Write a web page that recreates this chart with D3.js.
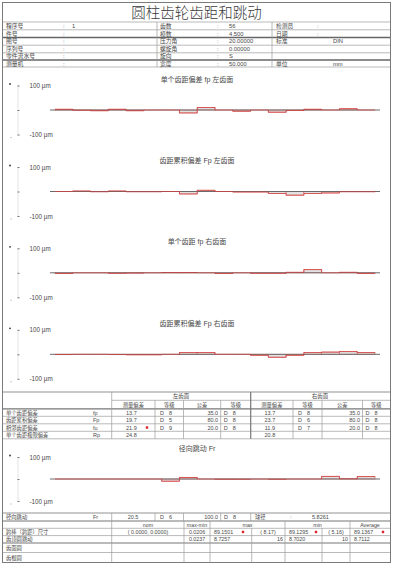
<!DOCTYPE html>
<html><head><meta charset="utf-8">
<script src="https://cdn.jsdelivr.net/npm/d3@7"></script>
<style>
html,body{margin:0;padding:0;background:#fff;}
svg{display:block;}
text{font-family:"Liberation Sans","Noto Sans CJK SC",sans-serif;fill:#484848;}
</style>
</head><body>
<svg id="c" width="393" height="566"></svg>
<script>
// ---------- DATA ----------
const mainTitle = "圆柱齿轮齿距和跳动";
const headLeftLabels = ["程序号","件号","图号","序列号","零件流水号","测量机"];
const headLeftValues = ["1","","","","",""];
const headMidLabels = ["齿数","模数","压力角","螺旋角","旋向","宽度"];
const headMidValues = ["56","4.500","20.00000","0.00000","S","50.000"];
const headRightLabels = ["检测员","日期","标准","","","单位"];
const headRightValues = ["","","DIN","","","mm"];
const headRightColon = [true,true,false,false,false,false];

const chartTitles = ["单个齿距偏差 fp 左齿面","齿距累积偏差 Fp 左齿面","单个齿距 fp 右齿面","齿距累积偏差 Fp 右齿面"];
const fpLeft  = [3, -1, -3, 3, -3, 0, 0, -12, 10, 0, -5, 0, -9, -2, 3, 0, 5, 0];
const FpLeft  = [0, 2, -1, 2, -1, -1, 0, -10, 5, 0, -2, -2, -8, -15, -8, -6, -1, -1];
const fpRight = [-3, 0, 0, -2, -1, 0, 1, 1, 0, -3, 0, -2, -2, 2, 13, 0, 2, -3];
const FpRight = [-1, 0, 0, -1, -2, -2, 0, 7, 7, 0, 0, -4, -12, -4, 7, 9, 11, 7];
const runoutTitle = "径向跳动 Fr";
const runout  = [0, 0, 0, 0, 0, 0, -10, 7, 0, -1, -1, 0, -1, 0, 0, 12, 1, 11];
const axisTicks = [-100, 0, 100];
const axisUnit = "µm";

const flankHeaders = ["左齿面","右齿面"];
const subHeaders = ["测量偏差","等级","公差","等级"];
const devLabels = ["单个齿距偏差","齿距累积偏差","相邻齿距偏差","单个齿距极限偏差"];
const devSymbols = ["fp","Fp","fu","Rp"];
const leftMeas = [13.7, 19.7, 21.9, 24.8];
const leftGrade = [8, 5, 9, null];
const leftTol = [35.0, 80.0, 20.0, null];
const leftTolGrade = [8, 8, 8, null];
const rightMeas = [13.7, 23.7, 11.9, 20.8];
const rightGrade = [8, 6, 7, null];
const rightTol = [35.0, 80.0, 20.0, null];
const rightTolGrade = [8, 8, 8, null];

const runLabel = "径向跳动", runSymbol = "Fr";
const runMeas = 20.5, runGrade = 6, runTol = 100.0, runTolGrade = 8;
const ballLabel = "球径", ballValue = "5.8261";

const sizeHeaders = ["nom","max-min","max","min","Average"];
const sizeLabels = ["跨棒（跨距）尺寸","齿顶圆跳动","齿面圆","齿根圆"];
const sizeNom = ["( 0.0000,  0.0000)","","",""];
const sizeRange = ["0.0206","0.0237","",""];
const sizeMax = ["89.1501","8.7257","",""];
const sizeMaxTooth = ["( 8.17)","16","",""];
const sizeMin = ["89.1295","8.7020","",""];
const sizeMinTooth = ["( 5.16)","10","",""];
const sizeAvg = ["89.1367","8.7112","",""];
const sizeFlag = [true,false,false,false];

// ---------- HELPERS ----------
const svg = d3.select("#c");
svg.append("rect").attr("width",393).attr("height",566).attr("fill","#fff");
const G = svg.append("g");
function hl(y,x1,x2,w=0.7,c="#9c9c9c"){G.append("line").attr("x1",x1).attr("x2",x2).attr("y1",y).attr("y2",y).attr("stroke",c).attr("stroke-width",w);}
function vl(x,y1,y2,w=0.7,c="#9c9c9c"){G.append("line").attr("x1",x).attr("x2",x).attr("y1",y1).attr("y2",y2).attr("stroke",c).attr("stroke-width",w);}
function tx(x,y,s,size=5.5,anchor="start",fill){const t=G.append("text").attr("x",x).attr("y",y).attr("font-size",size).attr("text-anchor",anchor).attr("dominant-baseline","central").text(s);if(fill)t.style("fill",fill);return t;}
function mark(x,y){G.append("rect").attr("x",x-1.2).attr("y",y-1.2).attr("width",2.4).attr("height",2.4).attr("fill","#e0202a");}

// frame
G.append("rect").attr("x",2.5).attr("y",2.5).attr("width",388).attr("height",560).attr("fill","none").attr("stroke","#7a7a7a").attr("stroke-width",1);

// title
tx(196.5,13,mainTitle,14.5,"middle","#3a3a3a").attr("font-family","Noto Sans CJK SC").attr("font-weight",300);

// header table
const hy = [22,29.8,37.5,45.2,52.8,60,67];
hy.forEach((y,i)=>hl(y,3,390,(i===2||i===5)?1.3:0.7,(i===2||i===5)?"#666":"#9c9c9c"));
vl(157,22,67); vl(272,22,67);
for(let i=0;i<6;i++){
  const cy=(hy[i]+hy[i+1])/2;
  tx(6,cy,headLeftLabels[i],5.8); tx(63,cy,":",5.8); tx(72,cy,headLeftValues[i],5.8);
  tx(160,cy,headMidLabels[i],5.8); tx(217,cy,":",5.8); tx(229,cy,headMidValues[i],5.8);
  tx(276,cy,headRightLabels[i],5.8); if(headRightColon[i]) tx(317,cy,":",5.8); tx(333,cy,headRightValues[i],5.8);
}

// ---------- CHARTS ----------
function drawChart(title, values, zero, half){
  const g = G.append("g");
  const x = d3.scaleLinear().domain([0, values.length]).range([55, 375]);
  const y = d3.scaleLinear().domain([-100, 100]).range([zero + half, zero - half]);
  g.append("text").attr("x",197).attr("y",zero-31).attr("font-size",7).attr("text-anchor","middle").attr("dominant-baseline","central").text(title);
  const ax = g.append("g").attr("transform","translate(17.5,0)")
    .call(d3.axisRight(y).tickValues(axisTicks).tickSize(2).tickPadding(10)
      .tickFormat(d => d === 0 ? "" : d + " " + axisUnit));
  ax.select(".domain").attr("stroke","#e4e4e4");
  ax.selectAll(".tick line").attr("stroke","#777");
  ax.selectAll(".tick text").attr("font-size",6.3).style("fill","#484848");
  g.append("circle").attr("cx",10).attr("cy",y(100)-1.5).attr("r",0.9).attr("fill","#333");
  g.append("circle").attr("cx",11).attr("cy",y(-100)+3).attr("r",0.8).attr("fill","#c8c8c8");
  g.selectAll("rect.bar").data(values).join("rect").attr("class","bar")
    .attr("x",(d,i)=>x(i)).attr("width",x(1)-x(0))
    .attr("y",d=>y(Math.max(0,d))).attr("height",d=>Math.abs(y(d)-y(0)))
    .attr("fill","#e2e2e2").attr("stroke","#dc6a6a").attr("stroke-width",0.7);
  g.append("line").attr("x1",50).attr("x2",380).attr("y1",y(0)).attr("y2",y(0)).attr("stroke","#6a6a6a").attr("stroke-width",1);
  const pts = values.map((v,i)=>[i,v]).concat([[values.length, values[values.length-1]]]);
  g.append("path").attr("d", d3.line().x(d=>x(d[0])).y(d=>y(d[1])).curve(d3.curveStepAfter)(pts))
    .attr("fill","none").attr("stroke","#d43c3c").attr("stroke-width",0.9).attr("opacity",0.8);
}
const zeros = [110, 191.5, 272.8, 354.3];
[fpLeft, FpLeft, fpRight, FpRight].forEach((v,i)=>drawChart(chartTitles[i], v, zeros[i], 24.5));
drawChart(runoutTitle, runout, 479, 22);

// ---------- DEVIATION TABLE ----------
const ty = [392,400.3,408.8,416.3,423.8,431.3,438.8];
hl(ty[0],3,390,0.8,"#777");
hl(ty[1],111.7,390);
hl(ty[2],3,390,1.2,"#777");
for(let i=3;i<ty.length;i++) hl(ty[i],3,390);
vl(111.7,ty[0],ty[6]); vl(250.7,ty[0],ty[6],1.2,"#777");
const colL = [111.7,155,183.5,220.7,250.7];
const colR = [250.7,293,322,362.5,390];
[colL,colR].forEach(c=>{ for(let k=1;k<4;k++) vl(c[k],ty[1],ty[6]); });
tx(181,(ty[0]+ty[1])/2,flankHeaders[0],5.5,"middle");
tx(320,(ty[0]+ty[1])/2,flankHeaders[1],5.5,"middle");
[colL,colR].forEach(c=>subHeaders.forEach((s,k)=>tx((c[k]+c[k+1])/2,(ty[1]+ty[2])/2,s,5.3,"middle")));
function flankCells(c, meas, grade, tol, tgrade, cy, i){
  if(meas[i]!=null) tx((c[0]+c[1])/2-2,cy,meas[i].toFixed(1),5.5,"middle");
  if(meas[i]!=null && tol[i]!=null && meas[i]>tol[i]) mark(c[1]-8,cy);
  if(grade[i]!=null){ tx(c[1]+5,cy,"D",5.5); tx(c[1]+14,cy,String(grade[i]),5.5); }
  if(tol[i]!=null) tx(c[3]-2.5,cy,tol[i].toFixed(1),5.5,"end");
  if(tgrade[i]!=null){ tx(c[3]+3,cy,"D",5.5); tx(c[3]+12,cy,String(tgrade[i]),5.5); }
}
for(let i=0;i<4;i++){
  const cy=(ty[i+2]+ty[i+3])/2;
  tx(6,cy,devLabels[i],5.3); tx(93,cy,devSymbols[i],5.5);
  flankCells(colL,leftMeas,leftGrade,leftTol,leftTolGrade,cy,i);
  flankCells(colR,rightMeas,rightGrade,rightTol,rightTolGrade,cy,i);
}

// ---------- RUNOUT ROW ----------
const ry1=513, ry2=521;
hl(ry1,3,390,0.8,"#777"); hl(ry2,3,390,1.1,"#777");
[111.7,155,183.5,220.7,250.7].forEach(x=>vl(x,ry1,ry2));
const rcy=(ry1+ry2)/2;
tx(6,rcy,runLabel,5.3); tx(93,rcy,runSymbol,5.5);
tx(133,rcy,runMeas.toFixed(1),5.5,"middle");
tx(160,rcy,"D",5.5); tx(169,rcy,String(runGrade),5.5);
tx(218,rcy,runTol.toFixed(1),5.5,"end");
tx(224,rcy,"D",5.5); tx(233,rcy,String(runTolGrade),5.5);
tx(255,rcy,ballLabel,5.3); tx(290,rcy,":",5.5); tx(312,rcy,ballValue,5.5);

// ---------- SIZE TABLE ----------
const sy=[521,528.3,535.6,543,552.5,562.5];
for(let i=1;i<sy.length-1;i++) hl(sy[i],3,390,i===3?1.2:0.7,i===3?"#777":"#9c9c9c");
[111.7,184,210,285,350].forEach(x=>vl(x,sy[0],sy[5]));
[251.7,322].forEach(x=>vl(x,sy[1],sy[5]));
const hc=(sy[0]+sy[1])/2;
const hx=[148,197,247.5,317.5,370];
sizeHeaders.forEach((s,k)=>tx(hx[k],hc,s,5.3,"middle"));
for(let i=0;i<4;i++){
  const cy=(sy[i+1]+sy[i+2])/2;
  tx(6,cy,sizeLabels[i],5.3);
  tx(148,cy,sizeNom[i],5.3,"middle");
  tx(197,cy,sizeRange[i],5.3,"middle");
  tx(214,cy,sizeMax[i],5.3);
  tx(i===0?268:283,cy,sizeMaxTooth[i],5.3,i===0?"middle":"end");
  tx(289,cy,sizeMin[i],5.3);
  tx(i===0?336:348,cy,sizeMinTooth[i],5.3,i===0?"middle":"end");
  tx(354,cy,sizeAvg[i],5.3);
  if(sizeFlag[i]){ mark(243,cy); mark(316,cy); mark(383,cy); }
}
</script>
</body></html>
